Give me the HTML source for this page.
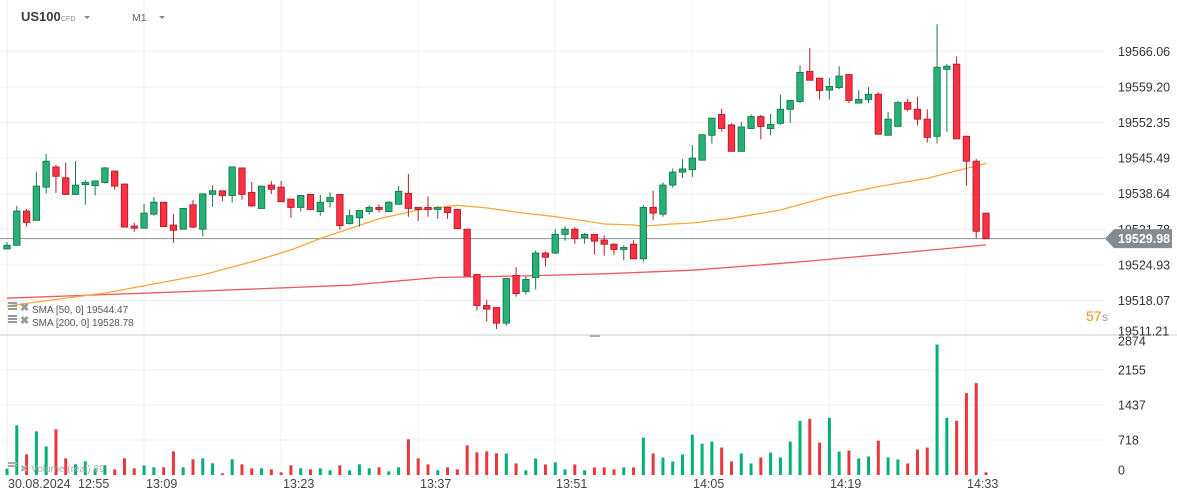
<!DOCTYPE html>
<html><head><meta charset="utf-8"><style>
html,body{margin:0;padding:0;background:#fff;width:1177px;height:501px;overflow:hidden;font-family:"Liberation Sans",sans-serif;}
svg text{font-family:"Liberation Sans",sans-serif;}
</style></head><body>
<svg id="chart" width="1177" height="501" xmlns="http://www.w3.org/2000/svg"></svg>
<script>
const open_=[19528.0,19528.7,19535.3,19533.5,19539.9,19543.8,19541.7,19538.5,19540.4,19540.2,19540.8,19543.0,19540.5,19532.4,19532.0,19534.7,19537.0,19532.6,19531.8,19536.5,19531.8,19538.5,19539.2,19538.3,19543.6,19538.9,19535.8,19540.3,19539.9,19537.6,19536.0,19538.5,19535.2,19537.1,19538.5,19532.9,19534.0,19535.2,19536.0,19535.2,19536.6,19538.7,19536.0,19536.0,19535.6,19536.0,19535.6,19531.8,19523.1,19517.1,19516.7,19513.7,19522.9,19519.8,19522.5,19527.2,19527.2,19530.8,19531.8,19530.2,19530.8,19529.7,19528.9,19527.9,19528.9,19526.1,19536.0,19534.7,19540.3,19542.8,19543.3,19545.1,19549.9,19553.9,19551.9,19546.8,19551.2,19553.5,19551.2,19552.2,19554.9,19556.4,19562.2,19560.9,19558.6,19559.1,19561.6,19556.1,19556.8,19557.8,19549.9,19551.6,19556.2,19554.9,19553.0,19549.7,19562.6,19563.6,19549.7,19544.9,19534.9];
const high_=[19529.3,19536.3,19535.7,19542.8,19546.3,19544.2,19544.6,19544.9,19541.3,19541.1,19543.8,19543.0,19540.5,19533.0,19536.7,19538.0,19537.0,19534.7,19535.8,19537.4,19538.6,19540.3,19539.2,19543.8,19543.6,19540.9,19540.1,19541.1,19541.1,19537.6,19538.3,19538.5,19538.4,19538.9,19538.5,19535.6,19535.4,19536.4,19536.6,19537.2,19540.1,19542.4,19536.0,19538.1,19536.2,19536.0,19535.6,19531.8,19523.1,19518.2,19516.7,19522.3,19524.5,19522.7,19527.7,19527.5,19531.8,19532.4,19532.2,19531.1,19530.8,19530.6,19529.1,19528.7,19529.7,19536.5,19539.2,19540.8,19543.5,19545.3,19548.0,19550.1,19553.2,19555.0,19552.2,19552.5,19553.9,19553.8,19554.0,19557.7,19556.6,19563.4,19566.7,19560.9,19560.9,19563.2,19561.6,19558.6,19559.2,19558.2,19554.4,19556.5,19556.9,19557.3,19554.9,19571.3,19563.6,19565.1,19549.7,19545.3,19534.9];
const low_=[19527.9,19528.7,19532.3,19533.5,19538.7,19538.8,19538.5,19538.5,19536.5,19538.3,19540.6,19539.4,19532.2,19531.3,19532.0,19534.4,19532.3,19529.2,19531.8,19532.0,19530.4,19536.1,19537.2,19536.9,19537.5,19536.1,19535.8,19538.6,19537.1,19534.0,19535.2,19535.6,19534.4,19536.0,19531.7,19532.7,19532.3,19534.6,19535.0,19535.2,19536.6,19534.2,19533.4,19534.2,19533.8,19533.8,19531.9,19522.8,19516.1,19514.0,19512.6,19513.2,19518.8,19519.2,19520.2,19524.6,19527.0,19529.6,19529.0,19529.0,19526.9,19526.7,19526.9,19525.8,19526.1,19525.5,19533.5,19534.2,19539.8,19541.7,19541.9,19545.1,19548.3,19550.6,19546.8,19546.8,19551.2,19549.1,19549.9,19551.9,19552.3,19556.1,19560.5,19556.8,19556.8,19558.8,19556.1,19556.1,19556.1,19550.1,19549.9,19551.6,19554.5,19551.8,19548.5,19548.3,19550.6,19549.2,19540.2,19530.0,19530.1];
const close_=[19528.7,19535.3,19533.1,19540.1,19544.9,19542.0,19538.5,19540.3,19540.8,19541.1,19543.6,19540.1,19532.2,19532.0,19534.9,19537.0,19532.3,19531.6,19535.8,19532.2,19538.6,19539.2,19538.3,19543.8,19538.5,19536.3,19540.1,19539.5,19537.1,19536.0,19538.3,19535.6,19537.0,19537.9,19532.5,19534.4,19535.4,19536.0,19535.6,19537.0,19539.1,19535.8,19535.6,19535.6,19536.0,19535.0,19531.9,19522.8,19517.1,19516.4,19513.7,19522.3,19519.4,19522.1,19527.2,19526.4,19530.8,19531.8,19530.0,19530.8,19529.5,19528.9,19527.9,19528.3,19526.1,19536.0,19534.9,19540.3,19542.8,19543.4,19545.5,19550.0,19553.2,19551.2,19546.8,19551.5,19553.5,19551.6,19552.0,19554.9,19556.6,19562.0,19560.5,19558.5,19559.3,19561.3,19556.6,19556.8,19557.8,19550.1,19553.0,19556.2,19554.9,19553.0,19549.5,19563.0,19563.2,19549.2,19544.9,19531.4,19529.98];
const volume=[130,1019,424,896,588,937,342,219,280,130,198,116,342,137,198,157,157,485,157,322,342,239,34,322,219,137,137,116,55,198,137,116,137,96,198,96,219,137,157,75,157,732,342,219,96,157,116,609,465,485,444,441,237,95,339,217,258,115,217,95,156,156,115,156,156,766,441,359,278,420,827,644,685,563,278,441,237,359,461,359,685,1112,1153,664,1173,481,502,339,380,705,359,319,237,522,563,2678,1173,1112,1681,1885,54];
const sma50Idx=[0,10,20,25,29,32,38,42,46,49,52,56,59,61,64,65,68,70,74,79,84,89,94,100];
const sma50Val=[19517.0,19519.5,19523.0,19525.5,19527.8,19530.0,19533.8,19535.5,19536.4,19535.9,19535.1,19534.2,19533.4,19532.8,19532.6,19532.4,19532.8,19533.0,19533.9,19535.5,19538.1,19540.0,19541.6,19544.47];
const sma200Idx=[0,20,35,44,53,61,70,81,91,100];
const sma200Val=[19518.5,19519.9,19521.0,19522.5,19522.8,19523.2,19523.9,19525.5,19527.2,19528.78];
const priceTicks=["19566.06","19559.20","19552.35","19545.49","19538.64","19531.78","19524.93","19518.07","19511.21"];
const volTicks=["2874","2155","1437","718","0"];
const timeLabels=["30.08.2024","12:55","13:09","13:23","13:37","13:51","14:05","14:19","14:33"];
const lastPrice=19529.98;

const NS="http://www.w3.org/2000/svg";
const svg=document.getElementById('chart');
function mk(tag,attrs,parent){const e=document.createElementNS(NS,tag);for(const k in attrs)e.setAttribute(k,attrs[k]);(parent||svg).appendChild(e);return e;}
const xOf=i=>7+i*9.79;
const yOf=p=>229.3+(19531.78-p)*5.19;
const vY=v=>475-v*35/718.5;

// grid
const grid=mk('g',{});


priceTicks.forEach(t=>{const y=yOf(parseFloat(t));if(y<334)mk('line',{x1:0,x2:1105,y1:y,y2:y,stroke:'#f0f0f0','stroke-width':1},grid);});
[370,405,440].forEach(y=>mk('line',{x1:0,x2:1105,y1:y,y2:y,stroke:'#f0f0f0'},grid));
[7.3,144,281,418,555,692,829,966].forEach(x=>mk('line',{x1:x,x2:x,y1:0,y2:476,stroke:'#f0f0f0'},grid));
mk('line',{x1:0,x2:1177,y1:335,y2:335,stroke:'#dcdcdc','stroke-width':1.5},grid);
mk('rect',{x:590,y:335,width:10,height:2,fill:'#b0b0b0'},grid);

// price axis
const pax=mk('g',{});


priceTicks.forEach(t=>{let y=yOf(parseFloat(t));if(y>331)y=331;const tx=mk('text',{x:1118,y:y+4.5,'font-size':12.5,fill:'#333'},pax);tx.textContent=t;});
const vax=mk('g',{});


volTicks.forEach((t,i)=>{const v=parseFloat(t);let y=vY(v);if(i===0)y=341;if(v===0)y=470;const tx=mk('text',{x:1118,y:y+4.5,'font-size':12.5,fill:'#333'},vax);tx.textContent=t;});

// time axis
const tax=mk('g',{});


const tX=[8,78,146,283,420,556,693,830,967];
timeLabels.forEach((t,i)=>{const tx=mk('text',{x:tX[i],y:488,'font-size':12.5,fill:'#444'},tax);tx.textContent=t;});

// last price line
const lp=mk('line',{x1:0,x2:1105,y1:yOf(lastPrice),y2:yOf(lastPrice),stroke:'#8c9296','stroke-width':1});



// SMA lines
function smaPath(idx,val,color,name){const d=idx.map((i,k)=>(k?'L':'M')+xOf(i).toFixed(1)+' '+yOf(val[k]).toFixed(1)).join(' ');const p=mk('path',{d:d,fill:'none',stroke:color,'stroke-width':1.3});}
smaPath(sma200Idx,sma200Val,'#ec5b5b','sma-200-line');
smaPath(sma50Idx,sma50Val,'#f6a93b','sma-50-line');

// candles
const cg=mk('g',{});


for(let i=0;i<open_.length;i++){
  const up=close_[i]>=open_[i];
  const fill=up?'#26b276':'#fd3044', st=up?'#17774d':'#b51d2c';
  const x=xOf(i);
  const g=mk('g',{},cg);
  
  
  mk('line',{x1:x,x2:x,y1:yOf(high_[i]),y2:yOf(low_[i]),stroke:st,'stroke-width':1},g);
  const t=yOf(Math.max(open_[i],close_[i])),b=yOf(Math.min(open_[i],close_[i]));
  mk('rect',{x:x-3.2,y:t,width:6.4,height:Math.max(b-t,1.2),fill:fill,stroke:st,'stroke-width':0.9},g);
}
// volume
const vg=mk('g',{});


for(let i=0;i<volume.length;i++){
  const up=close_[i]>=open_[i];
  const r=mk('rect',{x:xOf(i)-1.5,y:vY(volume[i]),width:3,height:475-vY(volume[i]),fill:up?'#00b173':'#e8383d'},vg);
  
  
}

// price tag
const tag=mk('g',{});


const ty=yOf(lastPrice);
mk('path',{d:`M1105 ${ty} L1114 ${ty-9.5} L1172 ${ty-9.5} L1172 ${ty+9.5} L1114 ${ty+9.5} Z`,fill:'#858c91'},tag);
const tt=mk('text',{x:1118,y:ty+4.5,'font-size':12.5,'font-weight':'bold',fill:'#fff'},tag);tt.textContent=lastPrice.toFixed(2);

// countdown
const cd=mk('text',{x:1086,y:321,'font-size':14,fill:'#f7931e'});


cd.textContent='57';
const cs=mk('text',{x:1102,y:321,'font-size':12,fill:'#999'});cs.textContent='s';

// header
const h=mk('g',{});


const s1=mk('text',{x:21,y:21,'font-size':13,'font-weight':'bold',fill:'#3a3f44'},h);s1.textContent='US100';
const s2=mk('text',{x:61,y:21,'font-size':7,fill:'#888'},h);s2.textContent='CFD';
mk('path',{d:'M84 16 L90 16 L87 19 Z',fill:'#888'},h);
const tf=mk('g',{});


const s3=mk('text',{x:132,y:21,'font-size':10.5,fill:'#666'},tf);s3.textContent='M1';
mk('path',{d:'M159 16 L165 16 L162 19 Z',fill:'#888'},tf);

// legends
function leg(y,txt,name){const g=mk('g',{});
 mk('rect',{x:8,y:y-8,width:9,height:2,fill:'#999'},g);mk('rect',{x:8,y:y-5,width:9,height:2,fill:'#999'},g);mk('rect',{x:8,y:y-2,width:9,height:2,fill:'#999'},g);
 const x=mk('text',{x:20,y:y+1,'font-size':11,'font-weight':'bold',fill:'#999'},g);x.textContent='✖';
 const t=mk('text',{x:32,y:y+3,'font-size':10,fill:'#555'},g);t.textContent=txt;}
leg(310,'SMA [50, 0] 19544.47','sma-50-legend');
leg(323,'SMA [200, 0] 19528.78','sma-200-legend');
const vl=mk('g',{});
mk('rect',{x:8,y:462,width:9,height:2,fill:'#aaa'},vl);mk('rect',{x:8,y:465,width:9,height:2,fill:'#aaa'},vl);
const vt=mk('text',{x:20,y:472,'font-size':10,fill:'#aaa'},vl);vt.textContent='✖ Volume (real) 69';
</script>
</body></html>
